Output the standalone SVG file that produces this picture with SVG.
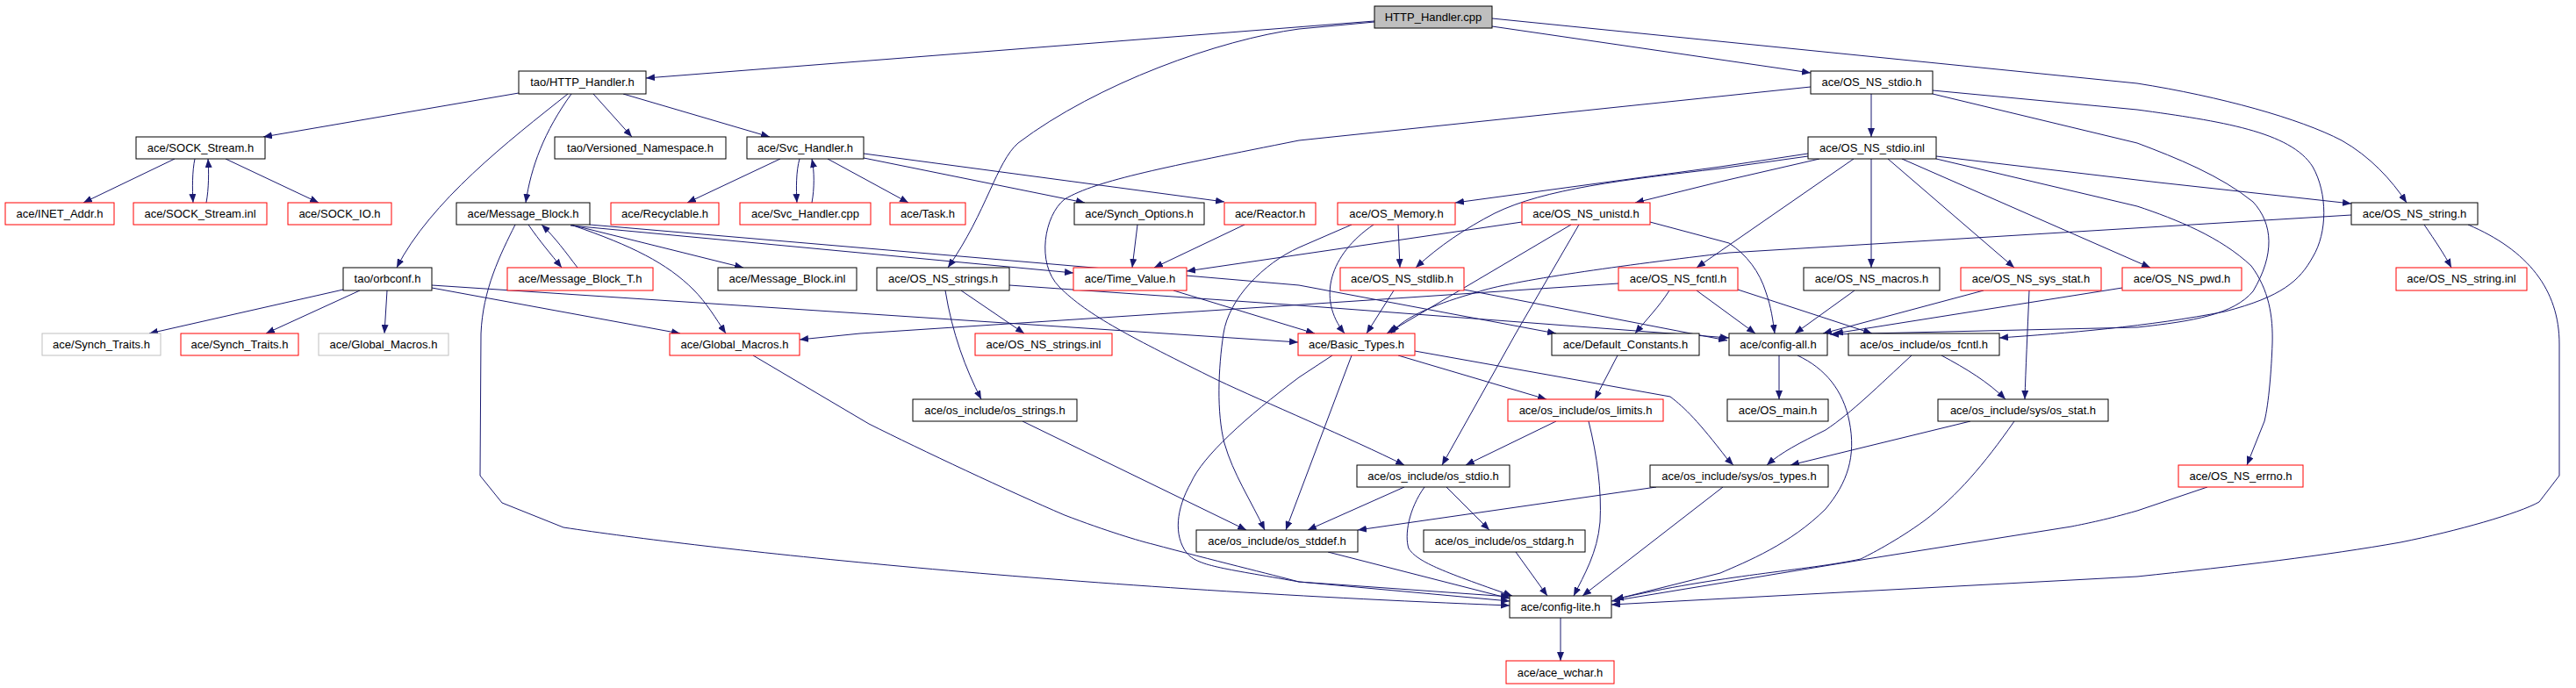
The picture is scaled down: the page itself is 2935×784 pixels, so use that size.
<svg xmlns="http://www.w3.org/2000/svg" width="2935" height="784" viewBox="0 0 2935 784">
<style>
rect{fill:#fff;stroke:#000;stroke-width:1}
.r rect{stroke:#f00}
.g rect{stroke:#bfbfbf}
.root rect{fill:#bfbfbf}
text{font-family:"Liberation Sans",Arial,sans-serif;font-size:13px;text-anchor:middle;fill:#000}
#edges path{fill:none;stroke:#191970;stroke-width:1;marker-end:url(#a)}
</style>
<defs>
<marker id="a" markerUnits="userSpaceOnUse" markerWidth="11" markerHeight="8" refX="10" refY="4" orient="auto"><path d="M0,0 L10,4 L0,8 z" fill="#191970"/></marker>
</defs>
<rect x="0" y="0" width="2935" height="784" style="fill:#fff;stroke:none"/>
<g id="edges">
<path d="M1566,24 L736,89"/>
<path d="M1566,25 L1480,33 C1390,45 1250,95 1160,163 C1135,185 1125,240 1080,305"/>
<path d="M1700,30 L2063,83"/>
<path d="M1700,21 L2435,95 C2530,110 2620,135 2668,160 C2700,178 2725,205 2742,231"/>
<path d="M591,106 L300,156"/>
<path d="M647,107 C580,160 490,230 452,305"/>
<path d="M651,107 C620,150 605,190 599,231"/>
<path d="M676,107 L720,156"/>
<path d="M710,107 L877,156"/>
<path d="M199,181 L95,231"/>
<path d="M222,181 C219,195 219,215 220,231"/>
<path d="M235,231 C238,215 238,195 237,181"/>
<path d="M257,181 L363,231"/>
<path d="M889,181 L783,231"/>
<path d="M911,181 C907,195 907,215 908,231"/>
<path d="M925,231 C928,215 928,195 925,181"/>
<path d="M943,181 L1035,231"/>
<path d="M984,180 L1236,231"/>
<path d="M984,175 L1395,230"/>
<path d="M602,256 C615,275 628,290 640,305"/>
<path d="M658,305 C645,288 632,270 617,256"/>
<path d="M650,256 L847,305"/>
<path d="M653,257 C720,280 760,300 790,330 C805,345 815,362 827,380"/>
<path d="M587,256 C570,290 550,330 548,380 L547,542 L572,573 L642,601 C800,625 1200,670 1720,690"/>
<path d="M650,257 L1223,311"/>
<path d="M672,256 L1480,325 L1773,380"/>
<path d="M391,330 L170,380"/>
<path d="M410,331 L303,380"/>
<path d="M441,331 L438,380"/>
<path d="M492,328 L775,380"/>
<path d="M492,325 L1479,390"/>
<path d="M1296,256 L1290,305"/>
<path d="M1418,256 L1315,305"/>
<path d="M1734,253 L1352,309"/>
<path d="M1077,331 C1085,380 1100,420 1118,455"/>
<path d="M1095,331 L1167,380"/>
<path d="M1150,325 L1480,348 L1970,385"/>
<path d="M1337,331 L1498,380"/>
<path d="M1593,256 L1595,305"/>
<path d="M1565,256 C1515,290 1500,340 1532,380"/>
<path d="M1540,256 L1480,282 C1440,300 1400,340 1394,380 C1388,420 1386,470 1395,505 C1405,540 1425,570 1441,604"/>
<path d="M2060,175 L1960,190 L1658,231"/>
<path d="M2060,178 L1960,192 C1850,205 1760,215 1703,243 C1670,260 1640,280 1613,305"/>
<path d="M2073,181 L1960,207 L1863,231"/>
<path d="M2112,181 L1933,305"/>
<path d="M2132,181 L2132,305"/>
<path d="M2151,181 L2295,305"/>
<path d="M2167,181 L2450,305"/>
<path d="M2206,178 L2460,208 L2679,232"/>
<path d="M2206,181 L2435,235 C2480,250 2530,270 2565,303 C2585,330 2590,360 2589,392 C2588,420 2585,460 2580,480 L2560,530"/>
<path d="M2132,107 L2132,156"/>
<path d="M2063,99 L1480,160 C1330,190 1250,205 1213,227 C1190,245 1180,300 1207,327 C1240,360 1290,385 1387,433 C1440,458 1540,500 1600,530"/>
<path d="M2202,103 L2435,125 C2530,138 2610,150 2635,190 C2652,220 2652,265 2635,293 C2620,320 2600,338 2535,355 C2450,372 2350,380 2278,385"/>
<path d="M2202,107 L2435,163 C2480,180 2530,200 2567,230 C2590,255 2592,290 2567,332 C2545,358 2500,366 2435,373 L2085,381"/>
<path d="M2762,256 C2775,275 2785,290 2793,305"/>
<path d="M2812,256 C2880,285 2916,330 2916,392 L2916,542 L2893,572 C2870,585 2800,605 2735,618 C2650,633 2550,645 2435,657 L1836,689"/>
<path d="M2679,245 L1970,288 C1850,302 1720,320 1683,333 C1640,345 1600,360 1585,380"/>
<path d="M1880,253 L1970,277 C1990,290 2005,310 2012,333 C2018,350 2020,365 2022,380"/>
<path d="M1790,256 L1580,380"/>
<path d="M1799,256 L1727,380 L1643,530"/>
<path d="M1588,331 L1557,380"/>
<path d="M1668,330 L1968,388"/>
<path d="M1902,331 C1890,350 1875,365 1863,380"/>
<path d="M1844,323 L1470,348 L980,380 L911,387"/>
<path d="M1933,331 L2000,380"/>
<path d="M1980,330 L2133,380"/>
<path d="M2113,331 L2045,380"/>
<path d="M2260,331 L2077,380"/>
<path d="M2312,331 C2310,380 2308,420 2307,455"/>
<path d="M2418,328 L2090,380"/>
<path d="M2178,405 C2140,440 2110,470 2080,490 C2050,505 2030,515 2013,530"/>
<path d="M2212,405 C2240,420 2265,435 2285,455"/>
<path d="M2245,480 L2040,530"/>
<path d="M2295,480 C2260,530 2230,565 2193,593 C2160,617 2130,632 2120,637 C2060,650 1960,655 1840,683"/>
<path d="M2027,405 L2027,455"/>
<path d="M2048,405 C2080,420 2100,445 2107,480 C2115,520 2105,550 2080,580 C2040,620 1990,640 1960,653 L1840,683"/>
<path d="M1963,555 L1803,679"/>
<path d="M1887,555 L1547,604"/>
<path d="M1612,400 L1903,452 C1920,465 1935,480 1968,523 L1975,530"/>
<path d="M1593,405 L1762,455"/>
<path d="M1540,405 L1465,604"/>
<path d="M1518,405 L1480,430 C1420,475 1370,520 1357,550 C1340,580 1337,610 1352,630 C1365,645 1390,647 1480,663 L1720,680"/>
<path d="M1773,480 L1670,530"/>
<path d="M1810,480 C1820,520 1825,560 1823,595 C1820,630 1805,655 1793,679"/>
<path d="M1843,405 L1817,455"/>
<path d="M1600,555 L1490,604"/>
<path d="M1623,555 C1605,580 1600,610 1605,625 C1615,640 1640,650 1723,679"/>
<path d="M1648,555 L1697,604"/>
<path d="M1727,629 L1763,679"/>
<path d="M1513,629 L1720,682"/>
<path d="M1778,704 L1778,753"/>
<path d="M1165,480 L1420,604"/>
<path d="M858,405 L990,483 C1050,513 1150,560 1213,587 C1260,605 1300,617 1313,620 C1380,638 1450,655 1480,663 L1720,685"/>
<path d="M2515,555 L2435,582 C2400,592 2380,596 2360,600 L2127,637 L1836,685"/>
</g>
<g id="n0" class="root"><rect x="1566" y="7" width="134" height="25"/><text x="1633" y="24">HTTP_Handler.cpp</text></g>
<g id="n1"><rect x="591" y="81" width="145" height="26"/><text x="663.5" y="98">tao/HTTP_Handler.h</text></g>
<g id="n2"><rect x="2063" y="81" width="139" height="26"/><text x="2132.5" y="98">ace/OS_NS_stdio.h</text></g>
<g id="n3"><rect x="155" y="156" width="147" height="25"/><text x="228.5" y="173">ace/SOCK_Stream.h</text></g>
<g id="n4"><rect x="632" y="156" width="195" height="25"/><text x="729.5" y="173">tao/Versioned_Namespace.h</text></g>
<g id="n5"><rect x="851" y="156" width="133" height="25"/><text x="917.5" y="173">ace/Svc_Handler.h</text></g>
<g id="n6"><rect x="2060" y="156" width="146" height="25"/><text x="2133" y="173">ace/OS_NS_stdio.inl</text></g>
<g id="n7" class="r"><rect x="6" y="231" width="124" height="25"/><text x="68" y="248">ace/INET_Addr.h</text></g>
<g id="n8" class="r"><rect x="152" y="231" width="152" height="25"/><text x="228" y="248">ace/SOCK_Stream.inl</text></g>
<g id="n9" class="r"><rect x="328" y="231" width="118" height="25"/><text x="387" y="248">ace/SOCK_IO.h</text></g>
<g id="n10"><rect x="520" y="231" width="152" height="25"/><text x="596" y="248">ace/Message_Block.h</text></g>
<g id="n11" class="r"><rect x="696" y="231" width="123" height="25"/><text x="757.5" y="248">ace/Recyclable.h</text></g>
<g id="n12" class="r"><rect x="843" y="231" width="149" height="25"/><text x="917.5" y="248">ace/Svc_Handler.cpp</text></g>
<g id="n13" class="r"><rect x="1014" y="231" width="86" height="25"/><text x="1057" y="248">ace/Task.h</text></g>
<g id="n14"><rect x="1224" y="231" width="148" height="25"/><text x="1298" y="248">ace/Synch_Options.h</text></g>
<g id="n15" class="r"><rect x="1395" y="231" width="104" height="25"/><text x="1447" y="248">ace/Reactor.h</text></g>
<g id="n16" class="r"><rect x="1524" y="231" width="134" height="25"/><text x="1591" y="248">ace/OS_Memory.h</text></g>
<g id="n17" class="r"><rect x="1734" y="231" width="146" height="25"/><text x="1807" y="248">ace/OS_NS_unistd.h</text></g>
<g id="n18"><rect x="2679" y="231" width="144" height="25"/><text x="2751" y="248">ace/OS_NS_string.h</text></g>
<g id="n19"><rect x="391" y="305" width="101" height="26"/><text x="441.5" y="322">tao/orbconf.h</text></g>
<g id="n20" class="r"><rect x="578" y="305" width="166" height="26"/><text x="661" y="322">ace/Message_Block_T.h</text></g>
<g id="n21"><rect x="818" y="305" width="158" height="26"/><text x="897" y="322">ace/Message_Block.inl</text></g>
<g id="n22"><rect x="999" y="305" width="151" height="26"/><text x="1074.5" y="322">ace/OS_NS_strings.h</text></g>
<g id="n23" class="r"><rect x="1223" y="305" width="129" height="26"/><text x="1287.5" y="322">ace/Time_Value.h</text></g>
<g id="n24" class="r"><rect x="1527" y="305" width="141" height="26"/><text x="1597.5" y="322">ace/OS_NS_stdlib.h</text></g>
<g id="n25" class="r"><rect x="1844" y="305" width="136" height="26"/><text x="1912" y="322">ace/OS_NS_fcntl.h</text></g>
<g id="n26"><rect x="2055" y="305" width="155" height="26"/><text x="2132.5" y="322">ace/OS_NS_macros.h</text></g>
<g id="n27" class="r"><rect x="2234" y="305" width="160" height="26"/><text x="2314" y="322">ace/OS_NS_sys_stat.h</text></g>
<g id="n28" class="r"><rect x="2418" y="305" width="136" height="26"/><text x="2486" y="322">ace/OS_NS_pwd.h</text></g>
<g id="n29" class="r"><rect x="2730" y="305" width="149" height="26"/><text x="2804.5" y="322">ace/OS_NS_string.inl</text></g>
<g id="n30" class="g"><rect x="48" y="380" width="135" height="25"/><text x="115.5" y="397">ace/Synch_Traits.h</text></g>
<g id="n31" class="r"><rect x="206" y="380" width="134" height="25"/><text x="273" y="397">ace/Synch_Traits.h</text></g>
<g id="n32" class="g"><rect x="363" y="380" width="148" height="25"/><text x="437" y="397">ace/Global_Macros.h</text></g>
<g id="n33" class="r"><rect x="763" y="380" width="148" height="25"/><text x="837" y="397">ace/Global_Macros.h</text></g>
<g id="n34" class="r"><rect x="1111" y="380" width="156" height="25"/><text x="1189" y="397">ace/OS_NS_strings.inl</text></g>
<g id="n35" class="r"><rect x="1479" y="380" width="133" height="25"/><text x="1545.5" y="397">ace/Basic_Types.h</text></g>
<g id="n36"><rect x="1768" y="380" width="168" height="25"/><text x="1852" y="397">ace/Default_Constants.h</text></g>
<g id="n37"><rect x="1970" y="380" width="112" height="25"/><text x="2026" y="397">ace/config-all.h</text></g>
<g id="n38"><rect x="2106" y="380" width="172" height="25"/><text x="2192" y="397">ace/os_include/os_fcntl.h</text></g>
<g id="n39"><rect x="1040" y="455" width="187" height="25"/><text x="1133.5" y="472">ace/os_include/os_strings.h</text></g>
<g id="n40" class="r"><rect x="1718" y="455" width="177" height="25"/><text x="1806.5" y="472">ace/os_include/os_limits.h</text></g>
<g id="n41"><rect x="1968" y="455" width="115" height="25"/><text x="2025.5" y="472">ace/OS_main.h</text></g>
<g id="n42"><rect x="2208" y="455" width="194" height="25"/><text x="2305" y="472">ace/os_include/sys/os_stat.h</text></g>
<g id="n43"><rect x="1546" y="530" width="174" height="25"/><text x="1633" y="547">ace/os_include/os_stdio.h</text></g>
<g id="n44"><rect x="1880" y="530" width="203" height="25"/><text x="1981.5" y="547">ace/os_include/sys/os_types.h</text></g>
<g id="n45" class="r"><rect x="2482" y="530" width="142" height="25"/><text x="2553" y="547">ace/OS_NS_errno.h</text></g>
<g id="n46"><rect x="1363" y="604" width="184" height="25"/><text x="1455" y="621">ace/os_include/os_stddef.h</text></g>
<g id="n47"><rect x="1622" y="604" width="184" height="25"/><text x="1714" y="621">ace/os_include/os_stdarg.h</text></g>
<g id="n48"><rect x="1720" y="679" width="116" height="25"/><text x="1778" y="696">ace/config-lite.h</text></g>
<g id="n49" class="r"><rect x="1716" y="753" width="123" height="26"/><text x="1777.5" y="771">ace/ace_wchar.h</text></g>
</svg>
